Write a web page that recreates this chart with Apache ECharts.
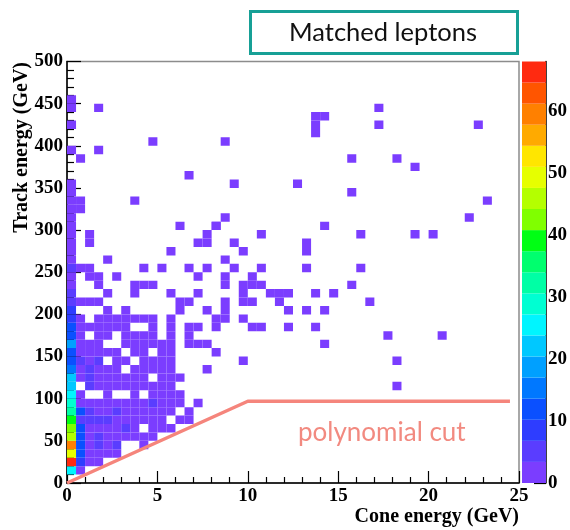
<!DOCTYPE html>
<html>
<head>
<meta charset="utf-8">
<script src="https://cdn.jsdelivr.net/npm/echarts@6/dist/echarts.min.js"></script>
<style>
  html, body { margin: 0; padding: 0; background: #fff; }
  #chart { width: 570px; height: 530px; }
</style>
</head>
<body>
<div id="chart"></div>
<script>
// 2D histogram: cone energy (x) vs track energy (y), 0.5 GeV x 10 GeV bins
const coneBinWidth = 0.5;   // GeV
const trackBinWidth = 10;   // GeV
const coneRange = [0, 25];
const trackRange = [0, 500];
const zRange = [0, 68];
const zTickStep = 10;

// colour palette of the z scale, lowest band first
const paletteColors = [
  '#7b3dff', '#5a3dff', '#2e3dff', '#0a50ff', '#0078ff',
  '#00a0ff', '#00c8ff', '#00f5ff', '#00ffd2', '#00ffa5',
  '#00ff6e', '#00ff14', '#80ff00', '#b4ff00', '#e6ff00',
  '#ffe600', '#ffaa00', '#ff8000', '#ff5500', '#ff2a10'
];

// entries per cone bin (index 0 = 0-0.5 GeV) for track rows 0-10 ... 190-200 GeV
const lowTrackRows = [
  [],
  [25, 2],
  [66, 10, 1, 1],
  [49, 11, 2, 2, 1, 1],
  [59, 12, 2, 5, 2, 5, 0, 0, 1],
  [45, 12, 2, 5, 2, 1, 1, 1, 1, 1],
  [42, 11, 2, 2, 2, 1, 5, 1, 0, 1, 1, 1],
  [39, 5, 5, 5, 5, 2, 1, 1, 1, 2, 1, 0, 1, 1],
  [32, 11, 5, 2, 2, 5, 2, 1, 1, 1, 1, 1, 0, 1],
  [29, 2, 2, 2, 2, 1, 1, 1, 1, 5, 1, 1, 1, 0, 1],
  [25, 1, 0, 0, 1, 0, 0, 1, 0, 1, 1, 1, 1],
  [22, 0, 5, 1, 1, 1, 1, 1, 1, 1, 1, 1],
  [21, 1, 5, 1, 1, 1, 1, 1, 1, 0, 1, 1, 1],
  [15, 1, 5, 1, 1, 1, 0, 1, 1, 1, 1, 1, 0, 0, 0, 1],
  [12, 5, 1, 5, 0, 1, 1, 0, 1, 1, 1, 1],
  [11, 1, 1, 1, 1, 1, 0, 1, 1, 0, 1, 1],
  [18, 1, 1, 1, 0, 0, 1, 1, 1, 1, 1, 1, 0, 1, 1, 1],
  [12, 1, 0, 1, 1, 0, 1, 1, 1, 1, 0, 1, 0, 1],
  [11, 1, 1, 1, 1, 1, 1, 0, 0, 1, 0, 1, 0, 1, 1],
  [8, 1, 0, 1, 1, 1, 1, 1, 1, 1, 0, 1]
];

// remaining filled bins: [cone bin, track bin, entries]
const scatteredBins = [
  [0, 20, 9], [4, 20, 1], [6, 20, 1], [12, 20, 1], [15, 20, 1],
  [0, 21, 5], [1, 21, 1], [2, 21, 1], [3, 21, 1], [12, 21, 1], [13, 21, 1],
  [0, 22, 5], [4, 22, 1], [7, 22, 1], [11, 22, 1], [14, 22, 1],
  [0, 23, 3], [3, 23, 1], [7, 23, 1], [8, 23, 1], [9, 23, 1],
  [0, 24, 2], [2, 24, 1], [3, 24, 1], [5, 24, 1], [14, 24, 1],
  [0, 25, 4], [1, 25, 1], [2, 25, 1], [8, 25, 1], [10, 25, 1], [13, 25, 1], [15, 25, 1],
  [0, 26, 2], [4, 26, 1], [0, 27, 1], [11, 27, 1],
  [0, 28, 1], [2, 28, 1], [14, 28, 1], [15, 28, 1],
  [0, 29, 1], [2, 29, 1], [15, 29, 1],
  [0, 30, 1], [12, 30, 1], [16, 30, 1],
  [0, 31, 1], [0, 32, 1], [1, 32, 1], [0, 33, 1], [1, 33, 1], [7, 33, 1],
  [0, 34, 1], [0, 35, 1], [0, 39, 1], [0, 42, 1], [0, 44, 1], [0, 45, 1],
  [3, 44, 1], [9, 40, 1], [3, 39, 1], [1, 38, 1], [13, 36, 1],
  [27, 43, 1], [28, 43, 1], [27, 42, 1], [27, 41, 1], [17, 40, 1],
  [31, 38, 1], [18, 35, 1], [25, 35, 1], [31, 34, 1],
  [34, 44, 1], [34, 42, 1], [45, 42, 1], [36, 38, 1], [38, 37, 1],
  [46, 33, 1], [44, 31, 1], [32, 29, 1], [38, 29, 1], [40, 29, 1],
  [32, 25, 1], [33, 21, 1], [35, 17, 1], [41, 17, 1], [36, 14, 1], [36, 11, 1],
  [17, 31, 1], [16, 30, 1], [28, 30, 1], [21, 29, 1], [18, 28, 1], [19, 27, 1],
  [26, 28, 1], [26, 27, 1], [17, 26, 1], [18, 25, 1], [21, 25, 1], [26, 25, 1],
  [17, 24, 1], [17, 23, 1], [20, 24, 1], [19, 23, 1], [20, 23, 1], [21, 23, 1],
  [19, 22, 1], [19, 21, 1], [20, 21, 1], [22, 22, 1], [23, 22, 1], [24, 22, 1],
  [23, 21, 1], [27, 22, 1], [29, 22, 1], [31, 23, 1], [17, 21, 1], [17, 20, 1],
  [16, 19, 1], [17, 19, 1], [16, 18, 1], [19, 19, 1], [20, 18, 1], [21, 18, 1],
  [24, 20, 1], [24, 18, 1], [26, 20, 1], [28, 20, 1], [27, 18, 1], [28, 16, 1],
  [16, 15, 1], [19, 14, 1]
];

// polynomial cut: straight rise, then flat
const cutCone = [0, 10, 24.5];
const cutTrack = [0, 97, 97];

// ---- build the cell list from the arrays above ----
const cells = [];
lowTrackRows.forEach((row, t) => {
  row.forEach((n, c) => { if (n > 0) cells.push([c * coneBinWidth, t * trackBinWidth, n]); });
});
scatteredBins.forEach(([c, t, n]) => cells.push([c * coneBinWidth, t * trackBinWidth, n]));

const nLevels = paletteColors.length;
const levelStep = (zRange[1] - zRange[0]) / nLevels;
function colorFor(n) {
  let k = Math.floor((n - zRange[0]) / levelStep);
  if (k < 0) k = 0;
  if (k >= nLevels) k = nLevels - 1;
  return paletteColors[k];
}
const bands = paletteColors.map((col, k) => [zRange[0] + k * levelStep, zRange[0] + (k + 1) * levelStep, k]);

const serifBold = { fontFamily: 'Liberation Serif', fontWeight: 'bold', color: '#000' };

const chart = echarts.init(document.getElementById('chart'), null, { renderer: 'canvas' });
chart.setOption({
  animation: false,
  backgroundColor: '#fff',
  grid: [
    { left: 67, top: 61.5, width: 452, height: 421.5, show: true, borderColor: '#8c8c8c', borderWidth: 1.5, backgroundColor: 'transparent' },
    { left: 522, top: 61.5, width: 25, height: 421.5 }
  ],
  xAxis: [
    {
      gridIndex: 0, type: 'value', min: coneRange[0], max: coneRange[1], interval: 5,
      axisLine: { show: true, onZero: false, lineStyle: { color: '#000', width: 1.5 } },
      axisTick: { show: true, inside: true, length: 12, lineStyle: { color: '#000', width: 1.2 } },
      minorTick: { show: true, splitNumber: 5, length: 6, lineStyle: { color: '#000', width: 1.2 } },
      splitLine: { show: false },
      axisLabel: Object.assign({ fontSize: 19, margin: 4 }, serifBold)
    },
    { gridIndex: 1, type: 'value', min: 0, max: 1, show: false }
  ],
  yAxis: [
    {
      gridIndex: 0, type: 'value', min: trackRange[0], max: trackRange[1], interval: 50,
      axisLine: { show: true, onZero: false, lineStyle: { color: '#000', width: 1.5 } },
      axisTick: { show: true, inside: true, length: 14, lineStyle: { color: '#000', width: 1.2 } },
      minorTick: { show: true, splitNumber: 5, length: 7, lineStyle: { color: '#000', width: 1.2 } },
      splitLine: { show: false },
      axisLabel: Object.assign({ fontSize: 19, margin: 4 }, serifBold)
    },
    {
      gridIndex: 1, type: 'value', min: zRange[0], max: zRange[1], interval: zTickStep, position: 'right',
      axisLine: { show: true, onZero: false, lineStyle: { color: '#000', width: 1.5 } },
      axisTick: { show: true, inside: true, length: 12, lineStyle: { color: '#000', width: 1.2 } },
      splitLine: { show: false },
      axisLabel: Object.assign({ fontSize: 19, margin: 2, showMaxLabel: false }, serifBold)
    }
  ],
  series: [
    {
      type: 'custom', xAxisIndex: 0, yAxisIndex: 0, data: cells, clip: true,
      renderItem: function (params, api) {
        const x = api.value(0), y = api.value(1), n = api.value(2);
        const p0 = api.coord([x, y + trackBinWidth]);
        const p1 = api.coord([x + coneBinWidth, y]);
        return {
          type: 'rect',
          shape: { x: p0[0], y: p0[1], width: p1[0] - p0[0], height: p1[1] - p0[1] },
          style: { fill: colorFor(n) }
        };
      }
    },
    {
      type: 'custom', xAxisIndex: 1, yAxisIndex: 1, data: bands,
      renderItem: function (params, api) {
        const p0 = api.coord([0, api.value(1)]);
        const p1 = api.coord([1, api.value(0)]);
        return {
          type: 'rect',
          shape: { x: p0[0], y: p0[1], width: p1[0] - p0[0], height: p1[1] - p0[1] },
          style: { fill: paletteColors[api.value(2)] }
        };
      }
    },
    {
      type: 'line', xAxisIndex: 0, yAxisIndex: 0,
      data: cutCone.map((c, i) => [c, cutTrack[i]]),
      symbol: 'none', lineStyle: { color: '#f5857c', width: 3.5 }, z: 5
    }
  ],
  graphic: [
    {
      type: 'rect', shape: { x: 250.5, y: 11.5, width: 267, height: 42 },
      style: { fill: '#fff', stroke: '#17a096', lineWidth: 3 }
    },
    {
      type: 'text', x: 383, y: 33,
      style: { text: 'Matched leptons', fontFamily: 'Lato', fontSize: 25.5, fill: '#111', align: 'center', verticalAlign: 'middle' }
    },
    {
      type: 'text', x: 298, y: 433, z: 10,
      style: { text: 'polynomial cut', fontFamily: 'Lato', fontSize: 26, fill: '#f28a80', align: 'left', verticalAlign: 'middle' }
    },
    {
      type: 'text', x: 22, y: 62, rotation: Math.PI / 2,
      style: { text: 'Track energy (GeV)', fontFamily: 'Liberation Serif', fontWeight: 'bold', fontSize: 20, fill: '#000', align: 'right', verticalAlign: 'middle' }
    },
    {
      type: 'text', x: 519, y: 517,
      style: { text: 'Cone energy (GeV)', fontFamily: 'Liberation Serif', fontWeight: 'bold', fontSize: 20, fill: '#000', align: 'right', verticalAlign: 'middle' }
    }
  ]
});
</script>
</body>
</html>
